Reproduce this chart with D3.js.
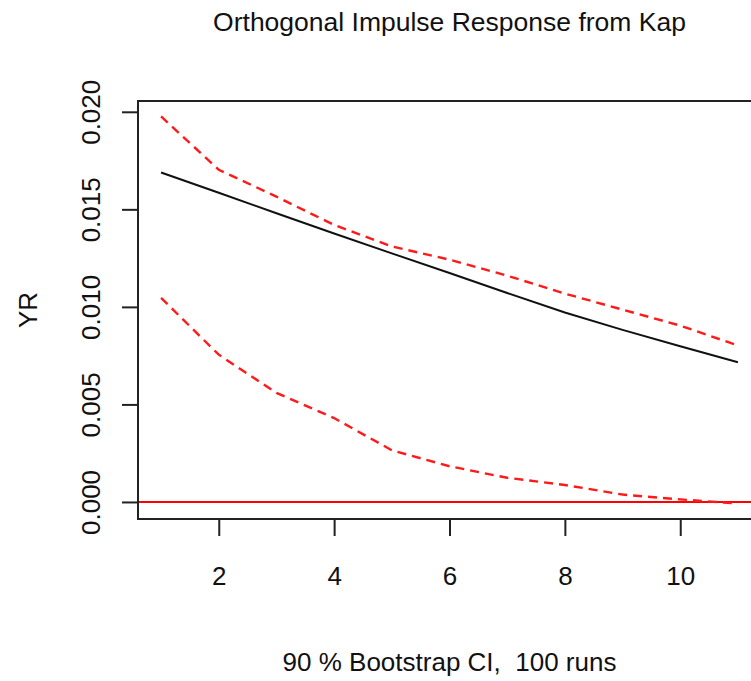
<!DOCTYPE html>
<html>
<head>
<meta charset="utf-8">
<script src="https://cdn.jsdelivr.net/npm/d3@7"></script>
<style>
body { margin: 0; background: #fff; }
text { font-family: "Liberation Sans", Arial, Helvetica, sans-serif; fill: #111; }
</style>
</head>
<body>
<script>
// horizon steps and responses
var steps = [1, 2, 3, 4, 5, 6, 7, 8, 9, 10, 11]
var irf   = [0.01689, 0.01585, 0.01480, 0.01376, 0.01274, 0.01174, 0.01071, 0.00971, 0.00882, 0.00798, 0.00716]
var upper = [0.01976, 0.01703, 0.01565, 0.01420, 0.01310, 0.01242, 0.01160, 0.01068, 0.00986, 0.00904, 0.00802]
var lower = [0.01046, 0.00755, 0.00559, 0.00430, 0.00265, 0.00183, 0.00124, 0.00087, 0.00038, 0.00013, -0.00008]
var xTicks = [2, 4, 6, 8, 10]
var yTicks = [0, 0.005, 0.010, 0.015, 0.020]

var W = 751, H = 681
var plot = {left: 138, right: 761, top: 101, bottom: 519}

// R style 4% padding on the ranges
function pad(ext) { var d = (ext[1] - ext[0]) * 0.04; return [ext[0] - d, ext[1] + d] }
var x = d3.scaleLinear().domain(pad(d3.extent(steps))).range([plot.left, plot.right])
var yExt = d3.extent(irf.concat(upper, lower, [0]))
var y = d3.scaleLinear().domain(pad(yExt)).range([plot.bottom, plot.top])

var svg = d3.select("body").append("svg").attr("width", W).attr("height", H)

// clip so the lines stay inside the box
svg.append("clipPath").attr("id", "clip").append("rect")
    .attr("x", plot.left).attr("y", plot.top)
    .attr("width", plot.right - plot.left).attr("height", plot.bottom - plot.top)

var g = svg.append("g").attr("clip-path", "url(#clip)")
var line = d3.line().x(function(d, i) { return x(steps[i]) }).y(function(d) { return y(d) })

g.append("line").attr("x1", plot.left).attr("x2", plot.right).attr("y1", y(0)).attr("y2", y(0))
    .attr("stroke", "#ff0000").attr("stroke-width", 2)
g.append("path").datum(irf).attr("d", line).attr("fill", "none").attr("stroke", "#111").attr("stroke-width", 2)
;[upper, lower].forEach(function(s) {
    g.append("path").datum(s).attr("d", line).attr("fill", "none")
        .attr("stroke", "#ff1a1a").attr("stroke-width", 2.4).attr("stroke-dasharray", "9,6")
})

// box
svg.append("rect").attr("x", plot.left).attr("y", plot.top)
    .attr("width", plot.right - plot.left).attr("height", plot.bottom - plot.top)
    .attr("fill", "none").attr("stroke", "#222").attr("stroke-width", 2)

// axes
var xAxis = d3.axisBottom(x).tickValues(xTicks).tickSize(17).tickPadding(31).tickSizeOuter(0)
var ax = svg.append("g").attr("transform", "translate(0," + plot.bottom + ")").call(xAxis)
ax.select(".domain").remove()
ax.selectAll("line").attr("stroke", "#222").attr("stroke-width", 2)
ax.selectAll("text").style("font-size", "26px").attr("fill", null)

var yAxis = d3.axisLeft(y).tickValues(yTicks).tickSize(16).tickFormat(d3.format(".3f"))
var ay = svg.append("g").attr("transform", "translate(" + plot.left + ",0)").call(yAxis)
ay.select(".domain").remove()
ay.selectAll("line").attr("stroke", "#222").attr("stroke-width", 2)
ay.selectAll("text").style("font-size", "26px").attr("fill", null)
    .attr("x", null).attr("dy", null).attr("text-anchor", "middle")
    .attr("transform", "translate(-38,0) rotate(-90)")

// labels
svg.append("text").attr("x", (plot.left + plot.right) / 2).attr("y", 31)
    .attr("text-anchor", "middle").style("font-size", "26.5px").text("Orthogonal Impulse Response from Kap")
svg.append("text").attr("x", (plot.left + plot.right) / 2).attr("y", 671)
    .attr("text-anchor", "middle").style("font-size", "26px").style("white-space", "pre")
    .text("90 % Bootstrap CI,  100 runs")
svg.append("text").attr("transform", "translate(37," + ((plot.top + plot.bottom) / 2) + ") rotate(-90)")
    .attr("text-anchor", "middle").style("font-size", "26px").text("YR")
</script>
</body>
</html>
